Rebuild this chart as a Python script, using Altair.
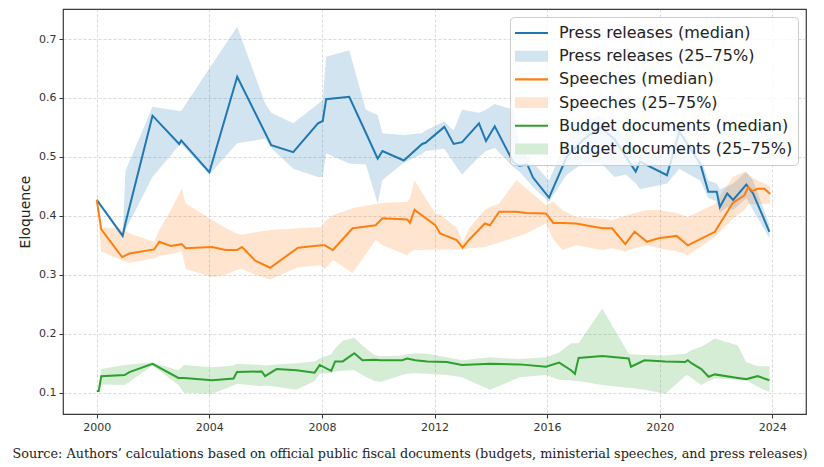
import altair as alt
import pandas as pd

# ---------------- data ----------------
press_x = [2000.0, 2000.92, 2001.02, 2001.98, 2002.93, 2003.0, 2004.0, 2004.99, 2005.98, 2006.2,
           2006.98, 2007.86, 2008.03, 2008.15, 2008.97, 2009.56, 2009.98, 2010.15, 2010.91, 2011.56,
           2011.68, 2012.35, 2012.68, 2012.98, 2013.58, 2013.83, 2014.14, 2014.8, 2015.02, 2015.3,
           2015.5, 2016.07, 2016.7, 2017.3, 2017.9, 2018.4, 2018.8, 2019.15, 2019.3, 2020.26,
           2020.7, 2021.44, 2021.73, 2022.03, 2022.14, 2022.4, 2022.61, 2023.08, 2023.32, 2023.9]
press_med = [0.427, 0.366, 0.388, 0.570, 0.522, 0.528, 0.474, 0.636, 0.541, 0.520,
             0.508, 0.557, 0.561, 0.598, 0.602, 0.541, 0.497, 0.510, 0.494, 0.522,
             0.524, 0.551, 0.522, 0.525, 0.557, 0.527, 0.552, 0.491, 0.485, 0.487,
             0.465, 0.431, 0.500, 0.530, 0.550, 0.530, 0.500, 0.475, 0.492, 0.469,
             0.543, 0.489, 0.441, 0.441, 0.415, 0.438, 0.427, 0.453, 0.438, 0.373]
press_q25 = [0.427, 0.362, 0.376, 0.466, 0.520, 0.522, 0.470, 0.523, 0.531, 0.515,
             0.480, 0.466, 0.466, 0.506, 0.489, 0.487, 0.421, 0.461, 0.490, 0.505,
             0.510, 0.514, 0.490, 0.470, 0.500, 0.510, 0.515, 0.483, 0.475, 0.460,
             0.449, 0.424, 0.470, 0.490, 0.490, 0.466, 0.470, 0.455, 0.445, 0.455,
             0.480, 0.460, 0.430, 0.425, 0.405, 0.415, 0.410, 0.430, 0.410, 0.362]
press_q75 = [0.427, 0.370, 0.476, 0.585, 0.578, 0.578, 0.650, 0.721, 0.591, 0.575,
             0.557, 0.590, 0.596, 0.670, 0.681, 0.580, 0.571, 0.540, 0.537, 0.540,
             0.545, 0.560, 0.545, 0.580, 0.575, 0.580, 0.590, 0.580, 0.520, 0.500,
             0.490, 0.460, 0.530, 0.560, 0.570, 0.550, 0.530, 0.520, 0.510, 0.500,
             0.555, 0.500, 0.460, 0.455, 0.445, 0.450, 0.455, 0.475, 0.460, 0.385]

speech_x = [2000.0, 2000.16, 2000.9, 2001.16, 2002.04, 2002.22, 2002.63, 2003.02, 2003.16, 2004.1,
            2004.57, 2004.98, 2005.16, 2005.63, 2006.16, 2007.15, 2007.98, 2008.1, 2008.39, 2009.09,
            2009.91, 2010.15, 2011.03, 2011.13, 2011.29, 2012.03, 2012.2, 2012.79, 2013.0, 2013.24,
            2013.79, 2013.97, 2014.3, 2014.91, 2015.26, 2015.96, 2016.22, 2016.55, 2017.02, 2017.96,
            2018.31, 2018.78, 2019.11, 2019.55, 2019.96, 2020.6, 2021.0, 2021.96, 2022.6, 2023.01,
            2023.15, 2023.3, 2023.48, 2023.72, 2023.93]
speech_med = [0.427, 0.377, 0.330, 0.336, 0.343, 0.356, 0.349, 0.352, 0.345, 0.347,
              0.342, 0.342, 0.347, 0.324, 0.312, 0.346, 0.350, 0.350, 0.342, 0.379,
              0.384, 0.396, 0.394, 0.388, 0.410, 0.384, 0.370, 0.359, 0.346, 0.360,
              0.387, 0.384, 0.407, 0.407, 0.405, 0.404, 0.388, 0.388, 0.387, 0.379,
              0.379, 0.352, 0.373, 0.356, 0.362, 0.366, 0.350, 0.373, 0.422, 0.435,
              0.449, 0.442, 0.446, 0.446, 0.437]
speech_q25 = [0.427, 0.339, 0.325, 0.320, 0.328, 0.332, 0.335, 0.340, 0.310, 0.296,
              0.300, 0.308, 0.310, 0.300, 0.292, 0.313, 0.316, 0.310, 0.325, 0.303,
              0.359, 0.350, 0.333, 0.338, 0.342, 0.343, 0.343, 0.343, 0.343, 0.345,
              0.347, 0.350, 0.355, 0.364, 0.370, 0.387, 0.360, 0.342, 0.350, 0.342,
              0.345, 0.340, 0.345, 0.350, 0.345, 0.340, 0.333, 0.364, 0.395, 0.410,
              0.420, 0.420, 0.420, 0.420, 0.421]
speech_q75 = [0.427, 0.380, 0.379, 0.370, 0.356, 0.376, 0.410, 0.446, 0.421, 0.393,
              0.380, 0.370, 0.368, 0.372, 0.376, 0.379, 0.381, 0.390, 0.401, 0.413,
              0.420, 0.422, 0.424, 0.430, 0.460, 0.404, 0.402, 0.380, 0.356, 0.380,
              0.410, 0.415, 0.421, 0.461, 0.447, 0.418, 0.424, 0.410, 0.398, 0.395,
              0.393, 0.400, 0.405, 0.410, 0.410, 0.405, 0.398, 0.420, 0.466, 0.475,
              0.470, 0.465, 0.460, 0.455, 0.450]

budget_x = [2000.0, 2000.07, 2000.16, 2000.99, 2001.16, 2001.98, 2002.9, 2003.1, 2004.1, 2004.86,
            2004.98, 2005.86, 2005.98, 2006.39, 2007.1, 2007.74, 2007.92, 2008.33, 2008.47, 2008.74,
            2009.15, 2009.44, 2009.86, 2010.09, 2010.85, 2011.03, 2011.32, 2011.74, 2012.44, 2012.97,
            2013.97, 2015.03, 2015.96, 2016.43, 2016.85, 2016.99, 2017.12, 2017.96, 2018.9, 2018.98,
            2019.46, 2020.2, 2020.9, 2021.0, 2021.13, 2021.48, 2021.74, 2021.96, 2022.78, 2023.07,
            2023.48, 2023.9]
budget_med = [0.103, 0.103, 0.128, 0.130, 0.135, 0.149, 0.125, 0.125, 0.121, 0.124,
              0.135, 0.136, 0.128, 0.140, 0.138, 0.134, 0.147, 0.137, 0.153, 0.153,
              0.167, 0.155, 0.156, 0.155, 0.155, 0.158, 0.155, 0.153, 0.152, 0.147,
              0.149, 0.148, 0.144, 0.151, 0.138, 0.132, 0.159, 0.162, 0.158, 0.144,
              0.155, 0.153, 0.152, 0.155, 0.150, 0.140, 0.127, 0.131, 0.125, 0.123,
              0.128, 0.121]
budget_q25 = [0.103, 0.103, 0.114, 0.113, 0.118, 0.146, 0.113, 0.100, 0.098, 0.112,
              0.115, 0.111, 0.112, 0.110, 0.105, 0.120, 0.132, 0.134, 0.136, 0.137,
              0.138, 0.130, 0.120, 0.118, 0.130, 0.132, 0.133, 0.132, 0.130, 0.126,
              0.105, 0.126, 0.130, 0.122, 0.121, 0.120, 0.120, 0.113, 0.108, 0.108,
              0.105, 0.098, 0.128, 0.130, 0.125, 0.113, 0.120, 0.124, 0.122, 0.121,
              0.110, 0.101]
budget_q75 = [0.103, 0.103, 0.140, 0.147, 0.148, 0.151, 0.138, 0.147, 0.143, 0.146,
              0.149, 0.147, 0.146, 0.148, 0.150, 0.153, 0.158, 0.165, 0.175, 0.188,
              0.193, 0.180, 0.164, 0.162, 0.163, 0.165, 0.167, 0.166, 0.160, 0.155,
              0.160, 0.157, 0.160, 0.168, 0.184, 0.184, 0.184, 0.243, 0.166, 0.165,
              0.164, 0.163, 0.166, 0.168, 0.172, 0.178, 0.185, 0.192, 0.180, 0.152,
              0.145, 0.145]

series_names = ["Press releases", "Speeches", "Budget documents"]
series_colors = ["#1f77b4", "#ff7f0e", "#2ca02c"]
band_legend_colors = ["#d2e4f0", "#ffe5cf", "#d5ecd5"]   # 20 % tints as seen in the legend
x_ticks = [2000, 2004, 2008, 2012, 2016, 2020, 2024]
y_ticks = [0.1, 0.2, 0.3, 0.4, 0.5, 0.6, 0.7]
caption = ("Source: Authors\u2019 calculations based on official public fiscal documents "
           "(budgets, ministerial speeches, and press releases)")

# ---------------- tables ----------------
series_data = [
    (press_x, press_med, press_q25, press_q75),
    (speech_x, speech_med, speech_q25, speech_q75),
    (budget_x, budget_med, budget_q25, budget_q75),
]
line_rows, band_rows, legend_rows = [], [], []
for name, (xs, med, lo, hi) in zip(series_names, series_data):
    for x, m, l, h in zip(xs, med, lo, hi):
        line_rows.append({"year": x, "value": m, "series": name})
        band_rows.append({"year": x, "lo": l, "hi": h, "series": name})
    legend_rows.append({"year": xs[0], "value": med[0], "key": f"{name} (median)"})
    legend_rows.append({"year": xs[0], "value": med[0], "key": f"{name} (25\u201375%)"})
lines_df = pd.DataFrame(line_rows)
bands_df = pd.DataFrame(band_rows)
legend_df = pd.DataFrame(legend_rows)

legend_keys = list(legend_df["key"])
legend_colors, legend_shapes = [], []
line_sym = "M-1,-0.065H1V0.065H-1Z"
patch_sym = "M-1,-0.33H1V0.33H-1Z"
for col, pale in zip(series_colors, band_legend_colors):
    legend_colors += [col, pale]
    legend_shapes += [line_sym, patch_sym]

x_enc = alt.X("year:Q", scale=alt.Scale(domain=[1998.8, 2025.2], nice=False, zero=False),
              axis=alt.Axis(values=x_ticks, format="d", title=None))
y_axis = alt.Axis(values=y_ticks, format=".1f", title="Eloquence")
y_scale = alt.Scale(domain=[0.0638, 0.751], nice=False, zero=False)

bands = alt.Chart(bands_df).mark_area(opacity=0.2, interpolate="linear").encode(
    x=x_enc,
    y=alt.Y("lo:Q", scale=y_scale, axis=y_axis),
    y2="hi:Q",
    fill=alt.Fill("series:N", scale=alt.Scale(domain=series_names, range=series_colors),
                  legend=None),
)

lines = alt.Chart(lines_df).mark_line(strokeWidth=2, interpolate="linear").encode(
    x=x_enc,
    y=alt.Y("value:Q", scale=y_scale, axis=y_axis),
    stroke=alt.Stroke("series:N", scale=alt.Scale(domain=series_names, range=series_colors),
                      legend=None),
)

legend_spec = alt.Legend(
    title=None,
    orient="top-right",
    offset=8,
    labelFont="DejaVu Sans",
    labelFontSize=16,
    labelColor="#222222",
    labelLimit=400,
    labelOffset=11,
    symbolSize=1089,
    symbolOpacity=1,
    symbolStrokeWidth=0,
    clipHeight=22,
    rowPadding=1.2,
    padding=5,
    fillColor="rgba(255,255,255,0.8)",
    strokeColor="#cccccc",
    cornerRadius=4,
)

legend_layer = alt.Chart(legend_df).mark_point(filled=True, opacity=0, size=1).encode(
    x=x_enc,
    y=alt.Y("value:Q", scale=y_scale, axis=y_axis),
    color=alt.Color("key:N", scale=alt.Scale(domain=legend_keys, range=legend_colors),
                    legend=legend_spec, sort=legend_keys),
    shape=alt.Shape("key:N", scale=alt.Scale(domain=legend_keys, range=legend_shapes),
                    legend=legend_spec, sort=legend_keys),
)

chart = alt.layer(bands, lines, legend_layer).properties(
    width=743,
    height=405,
    background="white",
    autosize=alt.AutoSizeParams(type="none"),
    padding={"left": 55, "top": 1, "right": 10, "bottom": 50},
    title=alt.TitleParams(
        text=caption,
        orient="bottom",
        anchor="start",
        frame="bounds",
        font="DejaVu Serif",
        fontSize=12.8,
        fontWeight="normal",
        color="#222222",
        offset=16,
        dx=-6,
    ),
).configure_view(
    stroke="#3a3a3a", strokeWidth=1.2
).configure_axis(
    domain=False,
    grid=True,
    gridColor="#b0b0b0",
    gridOpacity=0.6,
    gridDash=[3, 2],
    gridWidth=0.8,
    tickColor="#333333",
    tickSize=4,
    labelFont="DejaVu Sans",
    labelFontSize=11,
    labelColor="#333333",
    labelPadding=3,
    titleFont="DejaVu Sans",
    titleFontSize=14,
    titleFontWeight="normal",
    titleColor="#222222",
    titlePadding=6,
)

chart.save("out.html", embed_options={"renderer": "svg", "actions": False})
